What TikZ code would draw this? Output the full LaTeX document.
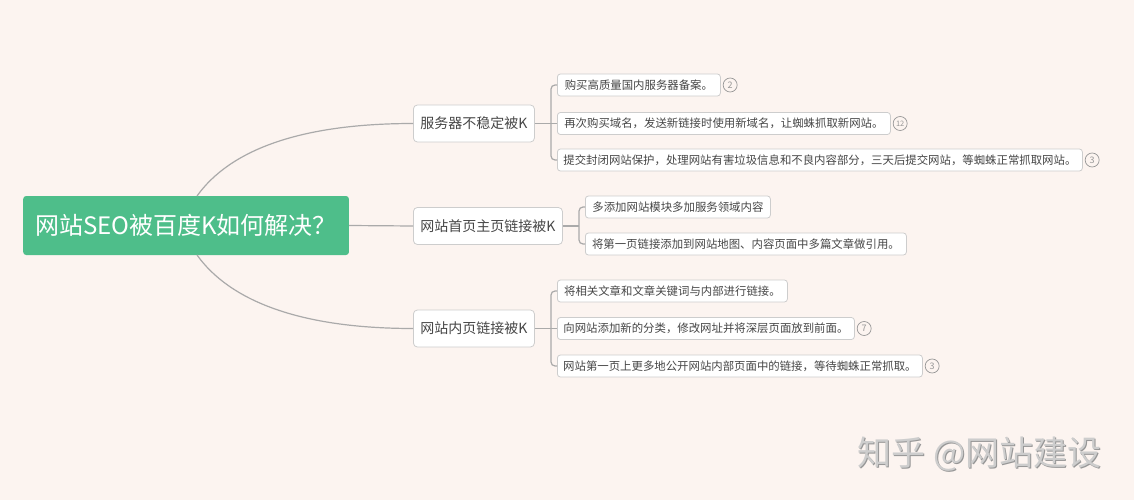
\documentclass[tikz,border=0pt]{standalone}
\usepackage{fontspec}
\setmainfont{Noto Sans CJK SC}
\definecolor{bg}{RGB}{252,244,240}
\definecolor{rootgreen}{RGB}{78,190,138}
\definecolor{conn}{RGB}{170,170,170}
\definecolor{boxline}{RGB}{205,205,205}
\definecolor{txt}{RGB}{70,70,70}
\definecolor{badge}{RGB}{150,150,150}
\definecolor{wmark}{RGB}{205,205,205}
\definecolor{wshadow}{RGB}{150,150,150}
\tikzset{
  rootbox/.style={fill=rootgreen, text=white, rounded corners=3pt, inner xsep=12pt,
    minimum height=59pt, minimum width=325pt, font=\fontsize{24}{26}\selectfont, anchor=west},
  branchbox/.style={draw=boxline, fill=white, rounded corners=4pt, line width=0.8pt,
    inner xsep=7pt, minimum height=37pt, text=txt, font=\fontsize{14}{16}\selectfont, anchor=west},
  leafbox/.style={draw=boxline, fill=white, rounded corners=3pt, line width=0.8pt,
    inner xsep=4pt, minimum height=22pt, text=txt, font=\fontsize{11.4}{13}\selectfont, anchor=west},
  connline/.style={draw=conn, line width=1.2pt},
  badgenode/.style={circle, draw=badge, line width=0.7pt, minimum size=14pt, inner sep=0pt,
    text=badge, font=\fontsize{9}{10}\selectfont, anchor=west},
}
\begin{document}
\begin{tikzpicture}[x=1pt,y=-1pt]
\fill[bg] (0,0) rectangle (1134,500);
\useasboundingbox (0,0) rectangle (1134,500);

% root
\node[rootbox] (root) at (23,225.5) {网站SEO被百度K如何解决？};

% branches
\node[branchbox] (b1) at (413,123.5) {服务器不稳定被K};
\node[branchbox] (b2) at (413,226) {网站首页主页链接被K};
\node[branchbox] (b3) at (413,328.5) {网站内页链接被K};

% root connectors
\coordinate (rt) at (197,196);
\coordinate (rb) at (197,255);
\draw[connline] (rt) .. controls (230,150) and (300,123.5) .. (b1.west);
\draw[connline] (root.east) -- (b2.west);
\draw[connline] (rb) .. controls (230,301) and (300,328.5) .. (b3.west);

% leaves branch 1
\node[leafbox, minimum width=163pt] (l11) at (557,85) {购买高质量国内服务器备案。};
\node[leafbox, minimum width=333pt] (l12) at (557,123.5) {再次购买域名，发送新链接时使用新域名，让蜘蛛抓取新网站。};
\node[leafbox, minimum width=525pt] (l13) at (557,160) {提交封闭网站保护，处理网站有害垃圾信息和不良内容部分，三天后提交网站，等蜘蛛正常抓取网站。};
\node[badgenode] (c11) at ([xshift=2pt]l11.east) {2};
\node[badgenode, font=\fontsize{7.5}{8}\selectfont] (c12) at ([xshift=2pt]l12.east) {12};
\node[badgenode] (c13) at ([xshift=2pt]l13.east) {3};

% leaves branch 2
\node[leafbox, minimum width=185pt] (l21) at (585,207) {多添加网站模块多加服务领域内容};
\node[leafbox, minimum width=321pt] (l22) at (585,244) {将第一页链接添加到网站地图、内容页面中多篇文章做引用。};

% leaves branch 3
\node[leafbox, minimum width=230pt] (l31) at (557,291) {将相关文章和文章关键词与内部进行链接。};
\node[leafbox, minimum width=297pt] (l32) at (557,328.5) {向网站添加新的分类，修改网址并将深层页面放到前面。};
\node[leafbox, minimum width=365pt] (l33) at (557,366) {网站第一页上更多地公开网站内部页面中的链接，等待蜘蛛正常抓取。};
\node[badgenode] (c32) at ([xshift=2pt]l32.east) {7};
\node[badgenode] (c33) at ([xshift=2pt]l33.east) {3};

% brackets
\coordinate (j1) at (551,123.5);
\coordinate (j2) at (579,226);
\coordinate (j3) at (551,328.5);
\draw[connline] (b1.east) -- (j1);
\draw[connline, rounded corners=4pt] (j1) |- (l11.west);
\draw[connline, rounded corners=4pt] (j1) |- (l13.west);
\draw[connline] (j1) -- (l12.west);
\draw[connline] (b2.east) -- (j2);
\draw[connline, rounded corners=4pt] (j2) |- (l21.west);
\draw[connline, rounded corners=4pt] (j2) |- (l22.west);
\draw[connline] (b3.east) -- (j3);
\draw[connline, rounded corners=4pt] (j3) |- (l31.west);
\draw[connline, rounded corners=4pt] (j3) |- (l33.west);
\draw[connline] (j3) -- (l32.west);

% watermark
\node[anchor=west, text=wshadow, font=\fontsize{34}{36}\selectfont] (wms) at (855,455.5) {知乎 @网站建设};
\node[anchor=west, text=wmark, font=\fontsize{34}{36}\selectfont] (wm) at (854,454.5) {知乎 @网站建设};
\end{tikzpicture}
\end{document}
